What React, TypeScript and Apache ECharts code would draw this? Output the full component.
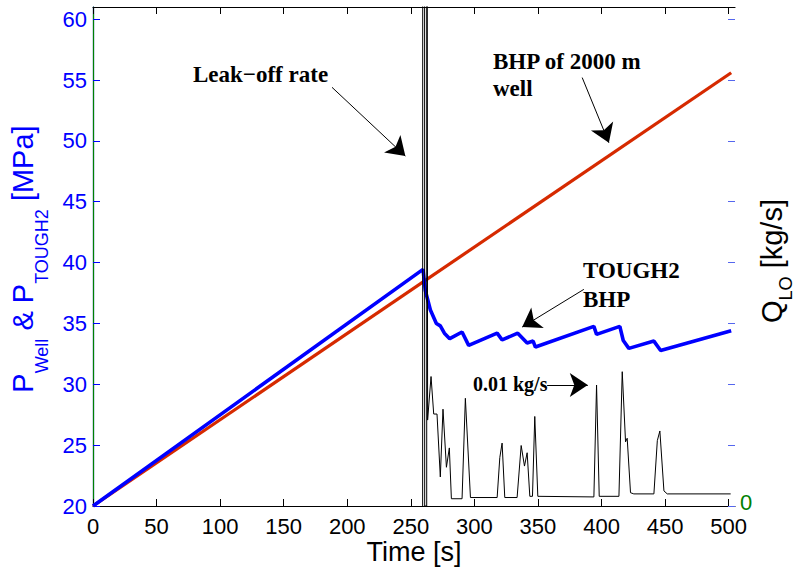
import React, { useEffect, useRef } from "react";
import * as echarts from "echarts";

// ---- data ----
const timeTicks = [0, 50, 100, 150, 200, 250, 300, 350, 400, 450, 500];
const pressureTicks = [20, 25, 30, 35, 40, 45, 50, 55, 60];
const rateTickLabel = "0";

// BHP of 2000 m well (red)
const bhpTime = [0, 502];
const bhpPressure = [20, 55.6];

// TOUGH2 BHP (blue)
const toughTime = [0, 259.6, 261.4, 265.4, 270.1, 273.2, 276.4, 280.6, 290.3, 295.5, 317.9, 321.8, 334.1, 341.5, 346.2, 348.0, 394.0, 396.1, 414.4, 417.1, 421.5, 441.2, 446.5, 502];
const toughPressure = [20, 39.44, 37.7, 36.1, 35.0, 34.8, 34.2, 33.75, 34.3, 33.2, 34.2, 33.65, 34.2, 33.4, 33.55, 33.06, 34.76, 34.1, 34.76, 33.6, 32.95, 33.55, 32.78, 34.4];

// Leak-off rate Q_LO [kg/s] (black)
const leakTime = [259.3, 259.4, 260.8, 260.9, 262.5, 262.6, 263.2, 265.9, 268.0, 270.6, 273.2, 275.3, 278.0, 280.3, 281.9, 290.3, 292.9, 296.9, 317.9, 320.0, 321.8, 323.9, 333.6, 336.8, 339.4, 341.5, 343.6, 345.7, 347.5, 349.9, 394.0, 396.1, 398.2, 413.7, 416.3, 418.9, 420.2, 422.8, 425.4, 441.2, 443.9, 445.9, 449.1, 451.7, 501.6];
const leakRate = [0, 0.08, 0.08, 0, 0, 0.08, 0.0071, 0.0107, 0.0076, 0.0076, 0.0024, 0.008, 0.0032, 0.0048, 0.0006, 0.0006, 0.0089, 0.0007, 0.0007, 0.004, 0.0052, 0.0007, 0.0007, 0.005, 0.0033, 0.0044, 0.0008, 0.0008, 0.0074, 0.0008, 0.00075, 0.01, 0.0008, 0.0008, 0.0111, 0.0053, 0.0056, 0.0011, 0.001, 0.001, 0.0054, 0.0062, 0.00125, 0.001, 0.001];

// annotation arrows (data coords: time, pressure)
const arrowFrom = [[188.0, 54.4], [384.8, 55.2], [386.1, 37.8], [357.2, 29.95]];
const arrowTo = [[245.7, 48.75], [405.8, 49.85], [337.6, 34.7], [389.2, 29.95]];

const zip = (a: number[], b: number[]) => a.map((v, i) => [v, b[i]]);

const SANS = '"Liberation Sans", Arial, Helvetica, sans-serif';
const SERIF = '"Liberation Serif", "Times New Roman", serif';
const BLUE = "#0000ff";
const RED = "#d62a00";
const GREEN = "#008000";

function measure(text: string, size: number) {
  const c = document.createElement("canvas").getContext("2d")!;
  c.font = `${size}px ${SANS}`;
  return c.measureText(text).width;
}

type Piece = { t: string; s: number; sub?: boolean };
function rotatedTitle(pieces: Piece[], mainX: number, subX: number, centerY: number, color: string) {
  const widths = pieces.map((p) => measure(p.t, p.s));
  const total = widths.reduce((a, b) => a + b, 0);
  let lx = -total / 2;
  const children = pieces.map((p, i) => {
    const el = {
      type: "text",
      x: lx,
      y: p.sub ? subX : mainX,
      style: { text: p.t, fontSize: p.s, fontFamily: SANS, fill: color, align: "left", verticalAlign: "middle" },
    };
    lx += widths[i];
    return el;
  });
  return { type: "group", x: 0, y: centerY, rotation: Math.PI / 2, children };
}

function note(text: string, x: number, y: number, size: number) {
  return {
    type: "text",
    x,
    y,
    style: { text, fontSize: size, fontFamily: SERIF, fontWeight: "bold", fill: "#000", align: "left", verticalAlign: "middle" },
  };
}

export default function App() {
  const ref = useRef<HTMLDivElement>(null);
  useEffect(() => {
    const chart = echarts.init(ref.current!, undefined, { renderer: "svg" });
    const xCommon = {
      type: "value",
      min: 0,
      max: 505,
      interval: 50,
      splitLine: { show: false },
    };
    const option: any = {
      animation: false,
      backgroundColor: "#fff",
      grid: { left: 93, right: 61, top: 7, bottom: 61 },
      xAxis: [
        {
          ...xCommon,
          position: "bottom",
          axisLine: { lineStyle: { color: "#000", width: 1.2 } },
          axisTick: { inside: true, length: 7, lineStyle: { color: "#000" }, customValues: timeTicks },
          axisLabel: { color: "#000", fontSize: 22, lineHeight: 16, fontFamily: SANS, margin: 12, customValues: timeTicks },
        },
        {
          ...xCommon,
          position: "top",
          axisLine: { lineStyle: { color: "#000", width: 1.2 } },
          axisTick: { inside: true, length: 7, lineStyle: { color: "#000" }, customValues: timeTicks },
          axisLabel: { show: false },
        },
      ],
      yAxis: [
        {
          type: "value",
          position: "left",
          min: 20,
          max: 61,
          interval: 5,
          splitLine: { show: false },
          axisLine: { show: true, lineStyle: { color: BLUE, width: 1.2 } },
          axisTick: { inside: true, length: 7, lineStyle: { color: BLUE }, customValues: pressureTicks },
          axisLabel: { color: BLUE, fontSize: 22, lineHeight: 16, fontFamily: SANS, margin: 6, customValues: pressureTicks },
        },
        {
          type: "value",
          position: "right",
          min: 0,
          max: 0.04124,
          splitLine: { show: false },
          axisLine: { show: true, lineStyle: { color: GREEN, width: 1.2 } },
          axisTick: { show: false },
          axisLabel: { show: false },
        },
        {
          type: "value",
          position: "right",
          min: 20,
          max: 61,
          interval: 5,
          splitLine: { show: false },
          axisLine: { show: false },
          axisTick: { inside: true, length: 7, lineStyle: { color: "#5566ee" }, customValues: pressureTicks },
          axisLabel: { show: false },
        },
      ],
      series: [
        {
          type: "line",
          name: "BHP of 2000 m well",
          data: zip(bhpTime, bhpPressure),
          xAxisIndex: 0,
          yAxisIndex: 0,
          showSymbol: false,
          lineStyle: { color: RED, width: 3.2 },
          itemStyle: { color: RED },
          markLine: {
            silent: true,
            symbol: ["none", "arrow"],
            symbolSize: 18,
            label: { show: false },
            lineStyle: { color: "#000", width: 1, type: "solid" },
            itemStyle: { color: "#000" },
            data: arrowFrom.map((f, i) => [{ coord: f }, { coord: arrowTo[i] }]),
          },
        },
        {
          type: "line",
          name: "TOUGH2 BHP",
          data: zip(toughTime, toughPressure),
          xAxisIndex: 0,
          yAxisIndex: 0,
          showSymbol: false,
          lineStyle: { color: BLUE, width: 3.6 },
          itemStyle: { color: BLUE },
        },
        {
          type: "line",
          name: "Leak-off rate",
          data: zip(leakTime, leakRate),
          xAxisIndex: 0,
          yAxisIndex: 1,
          showSymbol: false,
          clip: true,
          lineStyle: { color: "#000", width: 1 },
          itemStyle: { color: "#000" },
        },
      ],
      graphic: [
        rotatedTitle(
          [
            { t: "P", s: 29 },
            { t: "Well", s: 18, sub: true },
            { t: " & P", s: 29 },
            { t: "TOUGH2", s: 18, sub: true },
            { t: " [MPa]", s: 29 },
          ],
          23,
          42,
          259,
          BLUE
        ),
        rotatedTitle(
          [
            { t: "Q", s: 29 },
            { t: "LO", s: 18, sub: true },
            { t: " [kg/s]", s: 29 },
          ],
          772,
          786,
          261,
          "#000"
        ),
        {
          type: "text",
          x: 740,
          y: 502,
          style: { text: rateTickLabel, fontSize: 22, fontFamily: SANS, fill: GREEN, align: "left", verticalAlign: "middle" },
        },
        {
          type: "text",
          x: 414,
          y: 552,
          style: { text: "Time [s]", fontSize: 27, fontFamily: SANS, fill: "#000", align: "center", verticalAlign: "middle" },
        },
        note("Leak\u2212off rate", 193, 74, 23),
        note("BHP of 2000 m", 493, 61, 23),
        note("well", 493, 88, 23),
        note("TOUGH2", 583, 270, 23),
        note("BHP", 583, 299, 23),
        note("0.01 kg/s", 473, 384, 20),
      ],
    };
    chart.setOption(option);
    return () => chart.dispose();
  }, []);
  return <div ref={ref} style={{ position: "fixed", left: 0, top: 0, width: 796, height: 567 }} />;
}
